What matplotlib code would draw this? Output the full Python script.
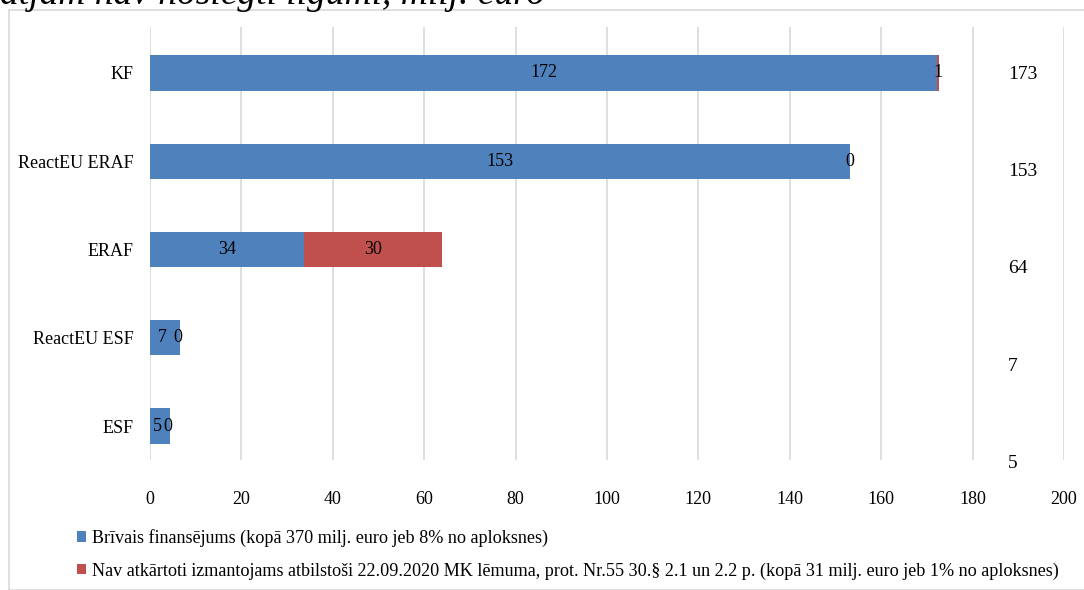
import matplotlib.pyplot as plt
from matplotlib.patches import Rectangle

categories = ["KF", "ReactEU ERAF", "ERAF", "ReactEU ESF", "ESF"]
free_funding = [172.2, 153.2, 33.6, 6.6, 4.4]
not_reusable = [0.5, 0.0, 30.2, 0.0, 0.0]
free_labels = ["172", "153", "34", "7", "5"]
nr_labels = ["1", "0", "30", "0", "0"]
totals = ["173", "153", "64", "7", "5"]
xticks = [0, 20, 40, 60, 80, 100, 120, 140, 160, 180, 200]

legend_labels = [
    "Brīvais finansējums (kopā 370 milj. euro jeb 8% no aploksnes)",
    "Nav atkārtoti izmantojams atbilstoši 22.09.2020 MK lēmuma, prot. Nr.55 30.§ 2.1 un 2.2 p. (kopā 31 milj. euro jeb 1% no aploksnes)",
]

blue = "#4F81BD"
red = "#C0504D"

plt.rcParams["font.family"] = ["Liberation Serif", "DejaVu Serif"]

fig = plt.figure(figsize=(10.84, 5.9), dpi=100)
ax = fig.add_axes([0.1384, 0.2203, 0.8431, 0.7339])

# chart frame like the Excel chart area
fig.patches.append(Rectangle((9 / 1084, 0), 1.2, 1 - 10 / 590, transform=fig.transFigure,
                             fill=False, edgecolor="#D9D9D9", linewidth=1.2))

y = list(range(len(categories)))
b1 = ax.barh(y, free_funding, height=0.4, color=blue, label=legend_labels[0], zorder=3)
b2 = ax.barh(y, not_reusable, left=free_funding, height=0.4, color=red,
             label=legend_labels[1], zorder=3)

for i in y:
    small = free_funding[i] < 10
    ax.text(free_funding[i] / 2 - (0.7 if small else 0), i, free_labels[i],
            ha="center", va="center", fontsize=13, zorder=4)
    ax.text(free_funding[i] + not_reusable[i] / 2 - (0.5 if small else 0), i,
            nr_labels[i], ha="center", va="center", fontsize=13, zorder=4)
    ax.text(187.7, i * 1.1 + 0.02, totals[i], ha="left", va="center", fontsize=14,
            clip_on=False)

ax.set_xlim(0, 200)
ax.set_ylim(4.385, -0.52)
ax.set_xticks(xticks)
ax.set_yticks(y)
ax.set_yticklabels(categories)
ax.tick_params(axis="both", length=0, labelsize=13)
ax.tick_params(axis="x", pad=22)
ax.tick_params(axis="y", pad=12)
ax.grid(axis="x", color="#D9D9D9", linewidth=1.2, zorder=0)
for s in ax.spines.values():
    s.set_visible(False)

fig.text(0.0, 1 - 4 / 590, "atjam nav noslēgti līgumi, milj. euro", fontsize=27,
         style="italic", ha="left", va="baseline")

fig.legend(handles=[b1, b2], labels=legend_labels, loc="lower left",
           bbox_to_anchor=(70 / 1084, 3 / 590), frameon=False, fontsize=13.1,
           handlelength=0.5, handleheight=0.5, handletextpad=0.3,
           labelspacing=0.85, borderaxespad=0)

fig.savefig("out.png", dpi=100)
